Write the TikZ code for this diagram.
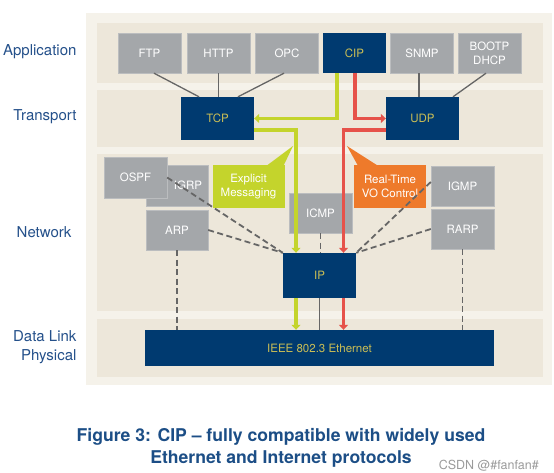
\documentclass[tikz,border=0pt]{standalone}
\usepackage{fontspec}
\setmainfont{TeX Gyre Heros}
\usetikzlibrary{arrows.meta,positioning}
\definecolor{navy}{HTML}{003A70}
\definecolor{gold}{HTML}{CBBE55}
\definecolor{protogray}{HTML}{A4A7AA}
\definecolor{msggreen}{HTML}{C4D42C}
\definecolor{rtred}{HTML}{E6524A}
\definecolor{rtorange}{HTML}{EE7A2B}
\definecolor{outerbg}{HTML}{F5F2EA}
\definecolor{bandbg}{HTML}{EDE7DA}
\definecolor{linegray}{HTML}{666666}
\definecolor{labelblue}{HTML}{24508A}
\definecolor{capblue}{HTML}{1C4E86}
\definecolor{wmgray}{HTML}{9A9A9A}
\newcommand\boxfont{\fontsize{11.5}{14}\selectfont}
\newcommand\layerfont{\fontsize{15}{18.5}\selectfont}
\newcommand\figcapfont{\fontsize{17.6}{22}\selectfont\bfseries}
\newcommand\wmfont{\fontsize{12.5}{14}\selectfont}

\begin{document}
\begin{tikzpicture}[x=1pt, y=-1pt,
  proto/.style={fill=protogray, draw=protogray!75!white, text=white, minimum width=63pt, minimum height=40pt, inner sep=0pt, align=center, font=\boxfont},
  core/.style={fill=navy, text=gold, minimum width=73pt, minimum height=43pt, inner sep=0pt, align=center, font=\boxfont},
  callout/.style={text=white, minimum width=72pt, minimum height=43pt, inner sep=0pt, align=center, font=\boxfont},
  layer/.style={anchor=east, text=labelblue, font=\layerfont, align=right},
  link/.style={draw=linegray, line width=1.3pt},
  optional/.style={draw=linegray, line width=1.8pt, dash pattern=on 6pt off 3.5pt},
  msgarrow/.style={line width=3.8pt, -{Triangle[length=5pt,width=9pt]}}
]
  \useasboundingbox (0,0) rectangle (554,473);
  \fill[outerbg] (86,13) rectangle (552,385);
  \fill[bandbg] (97,23) rectangle (543,83);
  \fill[bandbg] (97,90) rectangle (543,147);
  \fill[bandbg] (97,154) rectangle (543,311);
  \fill[bandbg] (97,319) rectangle (543,377);

  \node[layer] (lapp) at (80,52) {Application};
  \node[layer] (ltrans) at (80,117) {Transport};
  \node[layer] (lnet) at (75,232) {Network};
  \node[layer] (ldata) at (80,347) {Data Link\\Physical};

  \node[proto] (ftp) at (149.5,53) {FTP};
  \node[proto] (http) at (218.5,53) {HTTP};
  \node[proto] (opc) at (287,53) {OPC};
  \node[core, minimum width=63pt, minimum height=40pt] (cip) at (354.5,53) {CIP};
  \node[proto] (snmp) at (422,53) {SNMP};
  \node[proto] (bootp) at (489.5,53) {BOOTP\\DHCP};

  \node[core] (tcp) at (217.5,118.5) {TCP};
  \node[core] (udp) at (422.5,118.5) {UDP};

  \node[proto, minimum width=62pt, minimum height=41pt, text width=50pt, align=right] (igrp) at (177,185.5) {IGRP};
  \node[proto, minimum height=41pt] (ospf) at (135.5,177.5) {OSPF};
  \node[proto, minimum width=62pt] (arp) at (177,230) {ARP};
  \node[proto] (icmp) at (320.5,213) {ICMP};
  \node[proto] (igmp) at (462.5,186) {IGMP};
  \node[proto] (rarp) at (462.5,229) {RARP};

  \coordinate (explicittip) at (293,146);
  \coordinate (rttip) at (347,146);
  \node[callout, fill=msggreen] (explicit) at (248.5,186.5) {Explicit\\Messaging};
  \fill[msggreen] ([xshift=18pt,yshift=-1pt]explicit.north) -- (explicittip) -- ([xshift=35pt,yshift=-1pt]explicit.north) -- cycle;
  \node[callout, fill=rtorange] (realtime) at (390,186.5) {Real-Time\\VO Control};
  \fill[rtorange] ([xshift=-32pt,yshift=-1pt]realtime.north) -- (rttip) -- ([xshift=-12pt,yshift=-1pt]realtime.north) -- cycle;

  \node[core, minimum height=45pt] (ip) at (319.5,275.5) {IP};
  \node[core, minimum width=349pt, minimum height=36pt] (eth) at (319.5,348) {IEEE 802.3 Ethernet};

  \draw[link] ([xshift=4.5pt]ftp.south) -- ([xshift=-18.5pt]tcp.north);
  \draw[link] (http.south) -- (http.south |- tcp.north);
  \draw[link] ([xshift=-3pt]opc.south) -- ([xshift=20.5pt]tcp.north);
  \draw[link] ([xshift=-3pt]snmp.south) -- ([xshift=-3pt]snmp.south |- udp.north);
  \draw[link] ([xshift=-3.5pt]bootp.south) -- ([xshift=30.5pt]udp.north);
  \draw[link] (ip.south) -- (eth.north);

  \draw[optional] (ospf.east) -- (ip.north west);
  \draw[optional] (arp.east) -- (ip.north west);
  \draw[optional] ([yshift=4pt]igmp.west) -- (ip.north east);
  \draw[optional] (rarp.west) -- (ip.north east);
  \draw[optional] (icmp.south) -- (icmp.south |- ip.north);
  \draw[optional] (arp.south) -- (arp.south |- eth.north);
  \draw[optional] (rarp.south) -- (rarp.south |- eth.north);

  \draw[msgarrow, msggreen] ([xshift=-17.5pt]cip.south) |- (tcp.east);
  \draw[msgarrow, msggreen] ([yshift=-11.5pt]tcp.east) -| ([xshift=-23.5pt]ip.north);
  \draw[msgarrow, msggreen] ([xshift=-23.5pt]ip.south) -- ([xshift=-23.5pt]ip.south |- eth.north);
  \draw[msgarrow, rtred] ([xshift=0.5pt]cip.south) |- (udp.west);
  \draw[msgarrow, rtred] ([yshift=-11.5pt]udp.west) -| ([xshift=24pt]ip.north);
  \draw[msgarrow, rtred] ([xshift=24pt]ip.south) -- ([xshift=24pt]ip.south |- eth.north);

  \node[font=\figcapfont, text=capblue, align=center] (caption) at (281,448) {Figure 3: CIP – fully compatible with widely used\\Ethernet and Internet protocols};
  \node[text=wmgray, font=\wmfont, anchor=east, inner sep=1pt] (mark) at (540,466) {CSDN @\#fanfan\#};
\end{tikzpicture}
\end{document}
